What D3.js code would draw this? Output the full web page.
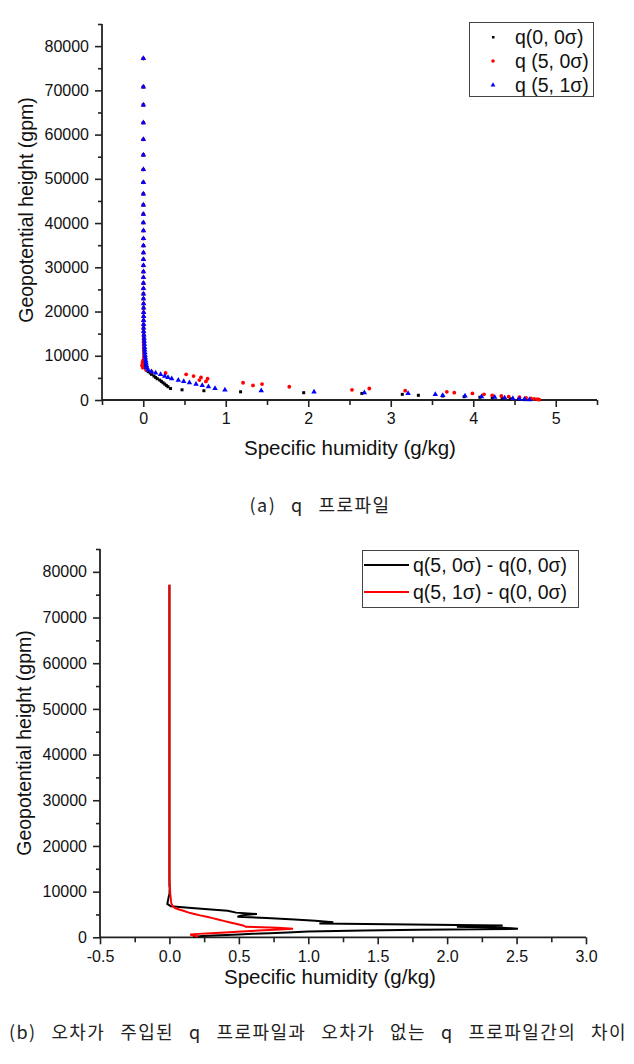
<!DOCTYPE html>
<html><head><meta charset="utf-8">
<script src="https://cdn.jsdelivr.net/npm/d3@7"></script>
<style>
html,body{margin:0;padding:0;background:#fff;}
svg{display:block;}
</style></head>
<body>
<script>
// ---------- DATA ----------
const heights = [77200,70800,66700,62700,58900,55400,52100,49200,46600,44100,42000,40100,
  38300,36500,34900,33300,31800,30400,29000,27700,26400,25200,24000,22900,
  21800,20800,19800,18900,18000,17100,16300,15500,14700,14000,13300,12600,11900,11300,
  10700,10100,9500,8900,8400,7800,7300,6800,6400,6100,5800,5400,5100,4800,4500,4200,
  3900,3600,3300,3000,2600,2300,2100,1850,1650,1480,1280,1060,900,750,620,500,380,270,170,80];

const q00 = [0.001,0.001,0.001,0.001,0.001,0.001,0.001,0.001,0.001,0.001,0.001,0.001,
  0.002,0.002,0.002,0.002,0.002,0.002,0.002,0.002,0.002,0.002,0.002,0.002,
  0.003,0.003,0.003,0.003,0.003,0.003,0.003,0.003,0.005,0.006,0.007,0.008,0.009,0.010,
  0.010,0.012,0.015,0.018,0.020,0.022,0.025,0.035,0.060,0.085,0.10,0.13,0.15,0.17,0.20,0.22,
  0.24,0.26,0.28,0.30,0.33,0.47,0.735,1.18,1.945,2.65,3.14,3.335,3.63,3.89,4.08,4.23,4.35,4.45,4.55,4.62];

const q50 = [0.001,0.001,0.001,0.001,0.001,0.001,0.001,0.001,0.001,0.001,0.001,0.001,
  0.002,0.002,0.002,0.002,0.002,0.002,0.002,0.002,0.002,0.002,0.002,0.002,
  0.003,0.003,0.003,0.003,0.003,0.003,0.003,0.003,0.005,0.006,0.007,0.008,0.009,0.010,
  0.012,0.013,0.008,-0.005,-0.010,-0.015,-0.005,0.040,0.10,0.27,0.52,0.61,0.70,0.78,0.68,0.76,
  1.21,1.44,1.33,1.77,2.74,2.53,3.175,3.68,3.77,3.99,4.13,4.23,4.34,4.43,4.56,4.64,4.70,4.74,4.78,4.80];

const q51 = [0.002,0.002,0.002,0.002,0.002,0.002,0.002,0.002,0.002,0.002,0.002,0.002,
  0.003,0.003,0.003,0.003,0.003,0.003,0.003,0.003,0.003,0.003,0.003,0.003,
  0.005,0.005,0.005,0.005,0.005,0.005,0.005,0.005,0.008,0.010,0.012,0.014,0.016,0.018,
  0.020,0.022,0.026,0.030,0.034,0.038,0.042,0.060,0.10,0.15,0.21,0.26,0.30,0.345,0.425,0.49,
  0.56,0.64,0.715,0.79,0.87,0.99,1.43,2.07,2.68,3.21,3.54,3.63,3.90,4.10,4.26,4.38,4.48,4.56,4.62,4.68];

// differences (panel b)
const diff50 = [0,0,0,0,0,0,0,0,0,0,0,0,
  0,0,0,0,0,0,0,0,0,0,0,0,
  0,0,0,0,0,0,0,0,0,0,0,0,0,0,
  0.002,0.001,0.0,-0.005,-0.008,-0.012,-0.015,0.01,0.16,0.30,0.42,0.48,0.63,0.52,0.49,0.70,
  0.90,1.05,1.18,1.08,2.40,2.07,2.40,2.51,1.80,1.40,1.00,0.85,0.72,0.60,0.50,0.41,0.32,0.24,0.20,0.17];

const diff51 = [0,0,0,0,0,0,0,0,0,0,0,0,
  0,0,0,0,0,0,0,0,0,0,0,0,
  0,0,0,0,0,0,0,0,0,0,0,0.001,0.002,0.003,
  0.004,0.005,0.006,0.008,0.010,0.012,0.015,0.025,0.04,0.07,0.10,0.14,0.18,0.22,0.27,0.31,
  0.35,0.39,0.43,0.47,0.53,0.55,0.78,0.89,0.76,0.64,0.52,0.40,0.30,0.21,0.15,0.16,0.175,0.19,0.20,0.20];

const yMajorTicks = [0,10000,20000,30000,40000,50000,60000,70000,80000];
const yMinorTicks = [5000,15000,25000,35000,45000,55000,65000,75000,85000];
const xTopMajor = [0,1,2,3,4,5];
const xTopMinor = [-0.5,0.5,1.5,2.5,3.5,4.5,5.5];
const xBotMajor = [-0.5,0.0,0.5,1.0,1.5,2.0,2.5,3.0];
const xBotMinor = [-0.25,0.25,0.75,1.25,1.75,2.25,2.75];

const legendTop = ["q(0, 0\u03c3)", "q (5, 0\u03c3)", "q (5, 1\u03c3)"];
const legendBot = ["q(5, 0\u03c3) - q(0, 0\u03c3)", "q(5, 1\u03c3) - q(0, 0\u03c3)"];
const xTitle = "Specific humidity (g/kg)";
const yTitle = "Geopotential height (gpm)";
const captionA = "(a) q 프로파일";
const captionB = "(b) 오차가 주입된 q 프로파일과 오차가 없는 q 프로파일간의 차이";

// ---------- DRAW ----------
const FONT = "'Liberation Sans', Arial, sans-serif";
const svg = d3.select("body").append("svg").attr("width",634).attr("height",1064);

function drawAxes(x, y, xMajor, xMinor, xFmt, xTitleY, xTitleX, yTitleX, yTitleY){
  const g = svg.append("g");
  const [y0,y1] = y.range();
  const [x0,x1] = x.range();
  g.append("g").attr("transform",`translate(${x0},0)`)
    .call(d3.axisLeft(y).tickValues(yMinorTicks).tickSize(4).tickFormat(""))
    .call(a=>a.select(".domain").remove());
  g.append("g").attr("transform",`translate(${x0},0)`)
    .call(d3.axisLeft(y).tickValues(yMajorTicks).tickSize(7).tickPadding(6).tickFormat(d3.format("d")))
    .call(a=>a.select(".domain").remove());
  g.append("g").attr("transform",`translate(0,${y0})`)
    .call(d3.axisBottom(x).tickValues(xMinor).tickSize(5).tickFormat(""))
    .call(a=>a.select(".domain").remove());
  g.append("g").attr("transform",`translate(0,${y0})`)
    .call(d3.axisBottom(x).tickValues(xMajor).tickSize(7).tickPadding(6).tickFormat(xFmt))
    .call(a=>a.select(".domain").remove());
  g.selectAll(".tick line").attr("stroke","#222").attr("stroke-width",1.6);
  g.selectAll(".tick text").attr("font-family",FONT).attr("font-size",16).attr("fill","#111");
  g.append("line").attr("x1",x0).attr("x2",x0).attr("y1",y0).attr("y2",y1)
    .attr("stroke","#222").attr("stroke-width",1.8);
  g.append("line").attr("x1",x0).attr("x2",x1).attr("y1",y0).attr("y2",y0)
    .attr("stroke","#222").attr("stroke-width",1.8);
  g.append("text").attr("x",xTitleX).attr("y",xTitleY).attr("text-anchor","middle")
    .attr("font-family",FONT).attr("font-size",20.5).attr("fill","#111").text(xTitle);
  g.append("text").attr("transform",`translate(${yTitleX},${yTitleY}) rotate(-90)`)
    .attr("text-anchor","middle").attr("font-family",FONT).attr("font-size",19.5)
    .attr("fill","#111").text(yTitle);
}

// ----- Panel (a) -----
const xA = d3.scaleLinear().domain([-0.5,5.5]).range([102,597]);
const yA = d3.scaleLinear().domain([0,85000]).range([400,24]);
drawAxes(xA, yA, xTopMajor, xTopMinor, d3.format("d"), 455, 350, 33, 210);

const pts = heights.map((h,i)=>({h, a:q00[i], b:q50[i], c:q51[i]}));
const gA = svg.append("g");
gA.selectAll("rect.k").data(pts).join("rect")
  .attr("x",d=>xA(d.a)-1.5).attr("y",d=>yA(d.h)-1.5).attr("width",3).attr("height",3).attr("fill","#000");
gA.selectAll("circle.r").data(pts).join("circle")
  .attr("cx",d=>xA(d.b)).attr("cy",d=>yA(d.h)).attr("r",1.9).attr("fill","#f00");
const tri = d3.symbol().type(d3.symbolTriangle).size(13);
gA.selectAll("path.b").data(pts).join("path")
  .attr("d",tri).attr("transform",d=>`translate(${xA(d.c)},${yA(d.h)})`).attr("fill","#00f");

// legend (a)
const lgA = svg.append("g");
lgA.append("rect").attr("x",469.5).attr("y",22.5).attr("width",124).attr("height",74)
  .attr("fill","#fff").attr("stroke","#444").attr("stroke-width",1);
const lgYs = [37,61,85];
lgA.append("rect").attr("x",492).attr("y",lgYs[0]-1).attr("width",2.5).attr("height",2.5).attr("fill","#000");
lgA.append("circle").attr("cx",493).attr("cy",lgYs[1]).attr("r",1.8).attr("fill","#f00");
lgA.append("path").attr("d",d3.symbol().type(d3.symbolTriangle).size(10)).attr("transform",`translate(493,${lgYs[2]})`).attr("fill","#00f");
lgA.selectAll("text").data(legendTop).join("text")
  .attr("x",515).attr("y",(d,i)=>lgYs[i]+7).attr("font-family",FONT).attr("font-size",19.5)
  .attr("fill","#111").text(d=>d);

// ----- Panel (b) -----
const xB = d3.scaleLinear().domain([-0.5,3.0]).range([100,586]);
const yB = d3.scaleLinear().domain([0,85000]).range([937.3,549]);
drawAxes(xB, yB, xBotMajor, xBotMinor, d=>d.toFixed(1), 984, 330, 31, 743);

const line = d3.line().x(d=>xB(d.v)).y(d=>yB(d.h));
const sK = heights.map((h,i)=>({h, v:diff50[i]}));
const sR = heights.map((h,i)=>({h, v:diff51[i]}));
svg.append("path").datum(sK).attr("d",line).attr("fill","none").attr("stroke","#000").attr("stroke-width",2);
svg.append("path").datum(sR).attr("d",line).attr("fill","none").attr("stroke","#f00").attr("stroke-width",2);

const lgB = svg.append("g");
lgB.append("rect").attr("x",362.5).attr("y",550.5).attr("width",216).attr("height",57)
  .attr("fill","#fff").attr("stroke","#444").attr("stroke-width",1);
const lgBY = [565,592];
lgB.selectAll("line").data(legendBot).join("line")
  .attr("x1",364).attr("x2",409).attr("y1",(d,i)=>lgBY[i]).attr("y2",(d,i)=>lgBY[i])
  .attr("stroke",(d,i)=>i===0?"#000":"#f00").attr("stroke-width",2);
lgB.selectAll("text").data(legendBot).join("text")
  .attr("x",413).attr("y",(d,i)=>lgBY[i]+7).attr("font-family",FONT).attr("font-size",19.5)
  .attr("fill","#111").text(d=>d);

// captions
const CJK = "'Noto Sans CJK KR', 'Noto Sans', sans-serif";
svg.append("text").attr("x",320).attr("y",512).attr("text-anchor","middle")
  .attr("font-family",CJK).attr("font-size",18).attr("fill","#222")
  .attr("letter-spacing",1.4).attr("word-spacing",9.5).text(captionA);
svg.append("text").attr("x",318).attr("y",1039).attr("text-anchor","middle")
  .attr("font-family",CJK).attr("font-size",18).attr("fill","#222")
  .attr("letter-spacing",1.4).attr("word-spacing",9.5).text(captionB);
</script>
</body></html>
